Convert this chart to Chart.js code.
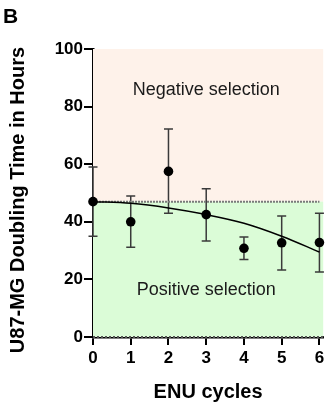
<!DOCTYPE html>
<html>
<head>
<meta charset="utf-8">
<script src="https://cdn.jsdelivr.net/npm/chart.js@4"></script>
<style>
  html, body { margin: 0; padding: 0; background: #fff; }
  #wrap { width: 328px; height: 408px; position: relative; }
</style>
</head>
<body>
<div id="wrap"><canvas id="chart"></canvas></div>
<script>
// ── DATA ──
const cycles     = [0, 1, 2, 3, 4, 5, 6];
const doubling   = [47, 40, 57.5, 42.5, 30.8, 32.7, 32.8];
const errUpper   = [59, 49, 72.2, 51.5, 34.7, 42, 43];
const errLower   = [35, 31.2, 43, 33.3, 26.9, 23.3, 22.6];
const fitCurve   = [47, 46.4, 44.8, 42.5, 39.5, 35, 29.5];
const threshold  = 47;
const yTicks     = [0, 20, 40, 60, 80, 100];
const zoneLabels = ['Negative selection', 'Positive selection'];
const yTitle     = 'U87-MG Doubling Time in Hours';

const FONT = "'Liberation Sans', Arial, Helvetica, sans-serif";

// ── SHADED ZONES + ERROR BARS ──
const zonesPlugin = {
  id: 'zones',
  beforeDatasetsDraw(chart) {
    const { ctx, chartArea: a, scales: { x, y } } = chart;
    const yT = y.getPixelForValue(threshold);
    const yTop = y.getPixelForValue(100);
    const y0 = y.getPixelForValue(0);
    ctx.save();
    ctx.fillStyle = '#fef2ea';
    ctx.fillRect(a.left, yTop, a.right - a.left, yT - yTop);
    ctx.fillStyle = '#dbfcd7';
    ctx.fillRect(a.left, yT, a.right - a.left, y0 - yT);

    ctx.fillStyle = '#1a1a1a';
    ctx.font = `18px ${FONT}`;
    ctx.textAlign = 'center';
    ctx.textBaseline = 'middle';
    ctx.fillText(zoneLabels[0], x.getPixelForValue(3), y.getPixelForValue(85.8));
    ctx.fillText(zoneLabels[1], x.getPixelForValue(3), y.getPixelForValue(16.3));

    // error bars
    ctx.strokeStyle = '#3a3a3a';
    ctx.lineWidth = 1.5;
    const cap = 4.5;
    cycles.forEach((c, i) => {
      const px = x.getPixelForValue(c);
      const hi = y.getPixelForValue(errUpper[i]);
      const lo = y.getPixelForValue(errLower[i]);
      ctx.beginPath();
      ctx.moveTo(px, hi); ctx.lineTo(px, lo);
      ctx.moveTo(px - cap, hi); ctx.lineTo(px + cap, hi);
      ctx.moveTo(px - cap, lo); ctx.lineTo(px + cap, lo);
      ctx.stroke();
    });
    ctx.restore();
  },
  afterDraw(chart) {
    const { ctx } = chart;
    ctx.save();
    ctx.fillStyle = '#000';
    ctx.font = `bold 21px ${FONT}`;
    ctx.textBaseline = 'top';
    ctx.fillText('B', 3, 7);

    // y-axis title, a little below the scale centre
    ctx.translate(18, 200);
    ctx.rotate(-Math.PI / 2);
    ctx.font = `bold 20px ${FONT}`;
    ctx.textAlign = 'center';
    ctx.textBaseline = 'middle';
    ctx.fillText(yTitle, 0, 0);
    ctx.restore();
  }
};

new Chart(document.getElementById('chart'), {
  type: 'line',
  data: {
    datasets: [
      {
        label: 'Doubling time',
        data: cycles.map((c, i) => ({ x: c, y: doubling[i] })),
        showLine: false,
        pointRadius: 4.8,
        pointBackgroundColor: '#000',
        pointBorderColor: '#000',
        pointBorderWidth: 0,
        clip: false,
        order: 0
      },
      {
        label: 'Fit',
        data: cycles.map((c, i) => ({ x: c, y: fitCurve[i] })),
        borderColor: '#000',
        borderWidth: 1.5,
        pointRadius: 0,
        cubicInterpolationMode: 'monotone',
        fill: false,
        order: 1
      },
      {
        label: 'Threshold',
        data: [{ x: 0, y: threshold }, { x: 6, y: threshold }],
        borderColor: '#7a7a7a',
        borderWidth: 2,
        borderDash: [2, 1],
        pointRadius: 0,
        order: 2
      },
      {
        label: 'Zero',
        data: [{ x: 0, y: 0 }, { x: 6.1, y: 0 }],
        borderColor: '#555',
        borderWidth: 2,
        borderDash: [2, 2],
        pointRadius: 0,
        clip: false,
        order: 3
      }
    ]
  },
  options: {
    animation: false,
    responsive: true,
    maintainAspectRatio: false,
    layout: { padding: { top: 49, right: 2, left: 0, bottom: 0 } },
    plugins: { legend: { display: false }, tooltip: { enabled: false } },
    scales: {
      x: {
        type: 'linear',
        min: 0,
        max: 6.1,
        afterFit: s => { s.height = 71; },
        ticks: {
          stepSize: 1,
          includeBounds: false,
          color: '#000',
          padding: 3,
          font: { family: FONT, size: 17, weight: 'bold' }
        },
        grid: { drawOnChartArea: false, drawTicks: true, tickLength: 8, color: '#000', lineWidth: 2 },
        border: { color: '#000', width: 2.5 },
        title: {
          display: true,
          text: 'ENU cycles',
          color: '#000',
          padding: { top: 0, bottom: 4 },
          font: { family: FONT, size: 20, weight: 'bold' }
        }
      },
      y: {
        min: 0,
        max: 100,
        afterFit: s => { s.width = 93; },
        afterBuildTicks: s => { s.ticks = yTicks.map(v => ({ value: v })); },
        ticks: {
          color: '#000',
          padding: 1,
          font: { family: FONT, size: 17, weight: 'bold' }
        },
        grid: { drawOnChartArea: false, drawTicks: true, tickLength: 9, color: '#000', lineWidth: 2 },
        border: { color: '#000', width: 2.5 },
        title: { display: false }
      }
    }
  },
  plugins: [zonesPlugin]
});
</script>
</body>
</html>
